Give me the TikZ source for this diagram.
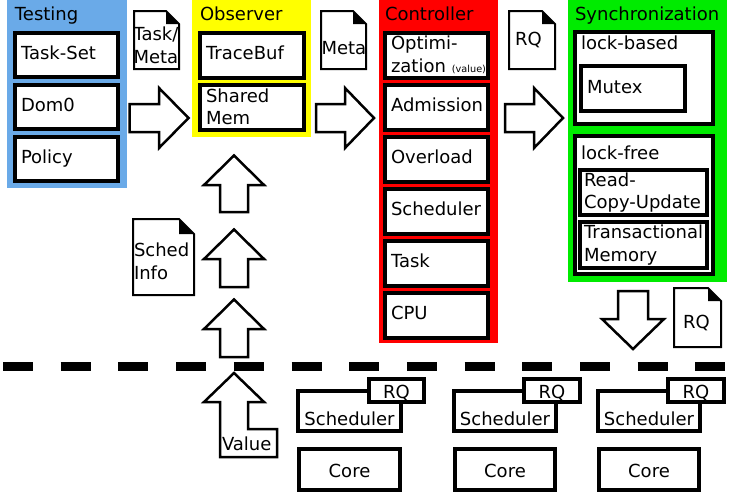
\documentclass[tikz,border=0pt]{standalone}
\usepackage{fontspec}
\setmainfont{DejaVu Sans}
\definecolor{tblue}{RGB}{106,170,232}
\definecolor{tyellow}{RGB}{255,255,0}
\definecolor{tred}{RGB}{255,0,0}
\definecolor{tgreen}{RGB}{0,235,0}
\newcommand\bigfont{\fontsize{18}{22.5}\selectfont}
\newcommand\smallfont{\fontsize{9.7}{11}\selectfont}
\newcommand\docshape[2]{%
  \draw[docline] (#1.south west) -- (#1.north west) -- ([xshift=-#2pt]#1.north east) -- ([yshift=-#2pt]#1.north east) -- (#1.south east) -- cycle;
  \fill ([xshift=-#2pt]#1.north east) -- ([xshift=-#2pt,yshift=-#2pt]#1.north east) -- ([yshift=-#2pt]#1.north east) -- cycle;}
\begin{document}
\begin{tikzpicture}[x=1pt,y=-1pt,
  every node/.style={font=\bigfont, inner sep=0pt, outer sep=0pt},
  panel/.style={fill=#1, anchor=north west, inner sep=0pt},
  ptitle/.style={anchor=base west},
  ibox/.style={draw, line width=4pt, fill=white, inner xsep=6pt, inner ysep=0pt, align=left},
  one/.style={text height=12.5pt, text depth=3.5pt},
  barrow/.style={draw, line width=2.5pt, fill=white, line join=miter},
  docline/.style={draw, line width=2pt, fill=white, line join=miter},
]
\fill[white] (0,0) rectangle (732,496);
\useasboundingbox (0,0) rectangle (732,496);

% panels
\node[panel=tblue, minimum width=120pt, minimum height=188pt] (testing) at (7,0) {};
\node[panel=tyellow, minimum width=119pt, minimum height=137pt] (observer) at (192,0) {};
\node[panel=tred, minimum width=119pt, minimum height=343pt] (controller) at (379,0) {};
\node[panel=tgreen, minimum width=159pt, minimum height=282pt] (sync) at (568,0) {};

\node[ptitle] (testingT) at (15,20) {Testing};
\node[ptitle] (observerT) at (200,20) {Observer};
\node[ptitle] (controllerT) at (385,20) {Controller};
\node[ptitle] (syncT) at (575,20) {Synchronization};

% testing
\node[ibox, one, text width=91pt, minimum height=44pt] (taskset) at (66.5,55) {Task-Set};
\node[ibox, one, text width=91pt, minimum height=44pt] (dom0) at (66.5,107) {Dom0};
\node[ibox, one, text width=91pt, minimum height=44pt] (policy) at (66.5,159) {Policy};

% observer
\node[ibox, one, text width=92pt, minimum height=45pt] (tracebuf) at (252,55) {TraceBuf};
\node[ibox, text width=92pt, minimum height=45pt] (shmem) at (252,107) {Shared\\Mem};

% controller
\node[ibox, text width=91pt, minimum height=45pt] (optim) at (436.5,55) {Optimi-\\zation~{\smallfont(value)}};
\node[ibox, one, text width=91pt, minimum height=45pt] (admission) at (436.5,107) {Admission};
\node[ibox, one, text width=91pt, minimum height=45pt] (overload) at (436.5,159) {Overload};
\node[ibox, one, text width=91pt, minimum height=45pt] (csched) at (436.5,211) {Scheduler};
\node[ibox, one, text width=91pt, minimum height=45pt] (ctask) at (436.5,263) {Task};
\node[ibox, one, text width=91pt, minimum height=45pt] (cpu) at (436.5,315) {CPU};

% synchronization
\node[ibox, minimum width=138pt, minimum height=92pt] (lockbased) at (644,78) {};
\node[anchor=base west] (lockbasedT) at (581,49) {lock-based};
\node[ibox, one, text width=92pt, minimum height=45pt] (mutex) at (633,88.5) {Mutex};
\node[ibox, minimum width=138pt, minimum height=138pt] (lockfree) at (644,205) {};
\node[anchor=base west] (lockfreeT) at (581,159) {lock-free};
\node[ibox, inner xsep=4pt, text width=119pt, minimum height=45pt] (rcu) at (643.5,192.5) {Read-\\Copy-Update};
\node[ibox, inner xsep=4pt, text width=119pt, minimum height=46pt] (tm) at (643.5,245) {Transactional\\Memory};

% documents
\node[minimum width=45pt, minimum height=58pt] (taskmeta) at (156.5,40) {};
\docshape{taskmeta}{13}
\node[align=left, anchor=west] (taskmetaT) at (133.5,45.5) {Task/\\Meta};

\node[minimum width=45pt, minimum height=58pt] (meta) at (343.5,40) {};
\docshape{meta}{13}
\node[anchor=base west] (metaT) at (321.5,54.3) {Meta};

\node[minimum width=46pt, minimum height=58pt] (rqdoc) at (532,40) {};
\docshape{rqdoc}{13}
\node[anchor=base west] (rqdocT) at (515,45) {RQ};

\node[minimum width=61pt, minimum height=76pt] (schedinfo) at (163.5,257) {};
\docshape{schedinfo}{15}
\node[align=left, anchor=west] (schedinfoT) at (134,261.3) {Sched\\Info};

\node[minimum width=47pt, minimum height=59pt] (rqdoc2) at (697.5,317.5) {};
\docshape{rqdoc2}{13}
\node[anchor=base west] (rqdoc2T) at (683,328) {RQ};

% block arrows
\draw[barrow] (129.5,104) -- (159,104) -- (159,88) -- (188.5,118) -- (159,148) -- (159,132) -- (129.5,132) -- cycle;
\draw[barrow] (316,104) -- (345,104) -- (345,88) -- (374,118) -- (345,148) -- (345,132) -- (316,132) -- cycle;
\draw[barrow] (505,104) -- (534,104) -- (534,88) -- (563,118) -- (534,148) -- (534,132) -- (505,132) -- cycle;

\draw[barrow] (220,212) -- (220,185) -- (204,185) -- (234,155.5) -- (264,185) -- (248,185) -- (248,212) -- cycle;
\draw[barrow] (220,287) -- (220,259) -- (204,259) -- (234,229.5) -- (264,259) -- (248,259) -- (248,287) -- cycle;
\draw[barrow] (220,357) -- (220,329) -- (204,329) -- (234,299.5) -- (264,329) -- (248,329) -- (248,357) -- cycle;

\draw[barrow] (234,373) -- (264,402) -- (248,402) -- (248,429) -- (277,429) -- (277,457) -- (220,457) -- (220,402) -- (204,402) -- cycle;
\node[anchor=base west] (valueT) at (222,450) {Value};

\draw[barrow] (618,291) -- (648,291) -- (648,319) -- (664,319) -- (633,349) -- (602,319) -- (618,319) -- cycle;

% dashed separator
\coordinate (dl) at (3,366.5);
\coordinate (dr) at (727,366.5);
\draw[line width=9pt, dash pattern=on 30pt off 27.7pt] (dl) -- (dr);

% cores
\node[ibox, minimum width=101pt, minimum height=40pt, text height=28pt, text depth=0pt] (s1) at (349.5,411) {Scheduler};
\node[ibox, minimum width=55pt, minimum height=23pt, text height=15pt, text depth=0pt] (rq1) at (396.5,390.5) {RQ};
\node[ibox, minimum width=101pt, minimum height=41pt, text height=15pt, text depth=0pt] (c1) at (349.5,469.5) {Core};

\node[ibox, minimum width=100pt, minimum height=40pt, text height=28pt, text depth=0pt] (s2) at (505,411) {Scheduler};
\node[ibox, minimum width=56pt, minimum height=23pt, text height=15pt, text depth=0pt] (rq2) at (552,390.5) {RQ};
\node[ibox, minimum width=100pt, minimum height=41pt, text height=15pt, text depth=0pt] (c2) at (505,469.5) {Core};

\node[ibox, minimum width=100pt, minimum height=40pt, text height=28pt, text depth=0pt] (s3) at (649,411) {Scheduler};
\node[ibox, minimum width=56pt, minimum height=23pt, text height=15pt, text depth=0pt] (rq3) at (696,390.5) {RQ};
\node[ibox, minimum width=100pt, minimum height=41pt, text height=15pt, text depth=0pt] (c3) at (649,469.5) {Core};
\end{tikzpicture}
\end{document}
